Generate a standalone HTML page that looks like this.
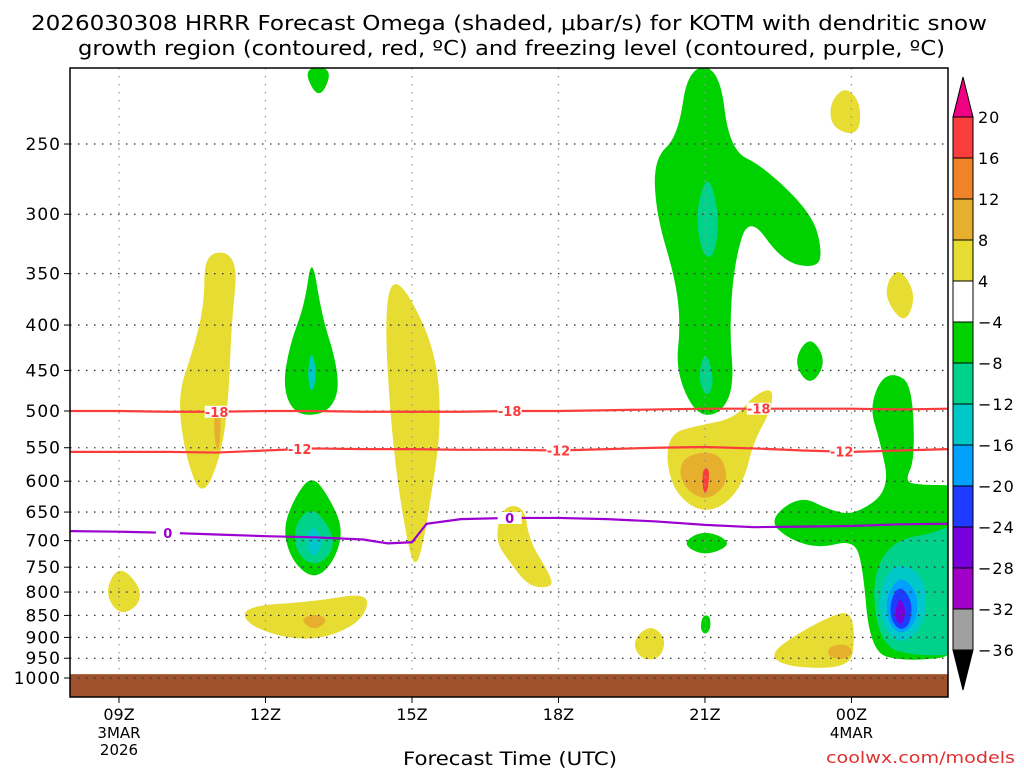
<!DOCTYPE html>
<html><head><meta charset="utf-8"><style>
html,body{margin:0;padding:0;background:#fff;}
svg{display:block;font-family:"DejaVu Sans","Liberation Sans",sans-serif;}
</style></head><body>
<svg id="chart" width="1024" height="768" viewBox="0 0 1024 768" xmlns="http://www.w3.org/2000/svg">
<text x="31" y="30" font-size="20" textLength="956" lengthAdjust="spacingAndGlyphs" fill="#000">2026030308 HRRR Forecast Omega (shaded, μbar/s) for KOTM with dendritic snow</text>
<text x="78" y="55" font-size="20" textLength="867" lengthAdjust="spacingAndGlyphs" fill="#000">growth region (contoured, red, ºC) and freezing level (contoured, purple, ºC)</text>
<defs><clipPath id="plotclip"><rect x="70" y="68" width="878" height="629"/></clipPath></defs>
<g id="fills" clip-path="url(#plotclip)"></g>
<g id="grid"></g>
<g id="contours" clip-path="url(#plotclip)"></g>
<rect x="70" y="68" width="878" height="629" fill="none" stroke="#000" stroke-width="1.5"/>
<g id="axes"></g>
<g id="cbar"></g>
<text x="403" y="765" font-size="19" textLength="214" lengthAdjust="spacingAndGlyphs">Forecast Time (UTC)</text>
<text x="826" y="763" font-size="16" textLength="189" lengthAdjust="spacingAndGlyphs" fill="#e03030">coolwx.com/models</text>
</svg>
<script>
// ---- data ----
const xTickHours = [0,3,6,9,12,15];
const xTickLabels = ["09Z","12Z","15Z","18Z","21Z","00Z"];
const xTickSub1 = {0:"3MAR",15:"4MAR"};
const xTickSub2 = {0:"2026"};
const yTickPressures = [250,300,350,400,450,500,550,600,650,700,750,800,850,900,950,1000];
const cbarLevels = [20,16,12,8,4,-4,-8,-12,-16,-20,-24,-28,-32,-36];
const cbarColors = ["#fa3c3c","#f08228","#e6af2d","#e6dc32","#ffffff","#00d200","#00d28c","#00c8c8","#00a0ff","#1e3cff","#7800dc","#a000c8","#a0a0a0"];
const levelColor = {"y":"#e6dc32","o":"#e6af2d","do":"#f08228","r":"#fa3c3c","g":"#00d200","tg":"#00d28c","c":"#00c8c8","lb":"#00a0ff","b":"#1e3cff","p":"#7800dc","w":"#ffffff"};
// polygons in [hour after 09Z, hPa]
const blobs = [
 ["g",[[3.75,205],[4.4,205],[4.1,224]]],
 ["y",[[1.75,330],[2.45,333],[2.3,400],[2.25,480],[2.1,560],[1.7,630],[1.35,560],[1.2,480],[1.5,430],[1.75,380]]],
 ["o",[[1.95,495],[2.1,500],[2.05,560],[1.95,540]]],
 ["g",[[3.95,332],[4.15,390],[4.45,440],[4.5,480],[4.2,505],[3.6,505],[3.35,470],[3.5,420],[3.8,380]]],
 ["c",[[3.95,425],[4.05,455],[3.95,480],[3.85,455]]],
 ["g",[[3.95,590],[4.3,625],[4.6,680],[4.4,740],[4.0,775],[3.55,740],[3.35,680],[3.6,625]]],
 ["tg",[[3.95,640],[4.35,680],[4.4,720],[4.0,750],[3.6,720],[3.6,670]]],
 ["c",[[3.95,670],[4.2,700],[4.0,735],[3.8,705]]],
 ["y",[[5.55,356],[5.9,365],[6.5,430],[6.6,520],[6.4,620],[6.2,720],[6.05,750],[5.9,700],[5.7,600],[5.55,500],[5.45,400]]],
 ["y",[[2.55,830],[4.0,820],[5.15,800],[5.0,860],[4.3,900],[3.5,905],[2.6,870]]],
 ["o",[[3.7,860],[4.0,845],[4.3,860],[4.0,885]]],
 ["y",[[0,745],[0.45,790],[0.4,830],[0,850],[-0.3,800]]],
 ["y",[[7.85,640],[8.3,640],[8.4,700],[8.8,760],[8.9,790],[8.4,790],[8.0,740],[7.7,700]]],
 ["g",[[11.65,205],[12.3,205],[12.5,254],[13.2,265],[14.2,300],[14.4,330],[14.3,345],[13.6,340],[12.9,300],[12.6,340],[12.5,405],[12.6,470],[12.3,505],[11.8,505],[11.4,450],[11.5,400],[11.4,356],[11.0,300],[10.95,260],[11.45,245]]],
 ["tg",[[12.05,268],[12.3,300],[12.2,335],[11.95,335],[11.8,300]]],
 ["tg",[[12.0,425],[12.2,460],[12.05,485],[11.85,460]]],
 ["y",[[11.3,530],[11.8,520],[12.6,510],[13.0,480],[13.4,470],[13.35,500],[13.0,540],[12.8,600],[12.4,640],[11.9,650],[11.4,620],[11.2,570]]],
 ["o",[[11.6,560],[12.3,555],[12.5,600],[12.1,630],[11.7,620],[11.45,590]]],
 ["r",[[11.95,580],[12.1,580],[12.05,620],[11.95,615]]],
 ["g",[[11.5,705],[12.0,680],[12.6,705],[12.0,730]]],
 ["g",[[11.95,850],[12.1,850],[12.12,880],[12.0,895],[11.9,880]]],
 ["g",[[14.15,410],[14.5,440],[14.15,470],[13.8,440]]],
 ["y",[[14.87,215],[15.2,225],[15.15,245],[14.6,240],[14.55,225]]],
 ["y",[[16.0,345],[16.33,370],[16.1,400],[15.7,375],[15.75,355]]],
 ["g",[[15.89,453],[16.24,467],[16.3,567],[16.1,598],[16.3,606],[17.5,606],[17.5,942],[15.99,959],[15.38,930],[15.22,736],[15.01,699],[14.36,714],[13.74,699],[13.29,664],[13.95,622],[14.56,647],[15.07,655],[15.79,614],[15.58,539],[15.38,498],[15.58,461]]],
 ["tg",[[17.5,650],[16.8,685],[15.8,700],[15.4,780],[15.6,920],[16.3,945],[17.5,940]]],
 ["c",[[16.0,740],[16.5,770],[16.55,850],[16.2,910],[15.8,905],[15.55,840],[15.65,770]]],
 ["lb",[[16.0,765],[16.35,800],[16.35,860],[16.05,895],[15.75,870],[15.7,810]]],
 ["b",[[16.0,785],[16.25,820],[16.2,870],[16.0,885],[15.8,860],[15.8,815]]],
 ["p",[[16.0,810],[16.12,840],[16.05,870],[15.92,865],[15.9,835]]],
 ["w",[[17.5,725],[17.3,760],[17.25,820],[17.35,880],[17.5,910]]],
 ["y",[[13.29,942],[13.95,887],[14.77,842],[15.01,849],[15.07,906],[14.97,974],[13.74,974]]],
 ["o",[[14.55,920],[14.9,915],[15.05,935],[14.85,955],[14.5,945]]],
 ["y",[[10.87,870],[11.2,900],[11.1,950],[10.7,955],[10.5,910]]]
];
const contourHours = [-1,0,1,2,3,4,5,6,7,8,9,10,11,12,13,14,15,16,17,18];
const m18Press = [500,500,501,501,500,500,501,501,501,500,500,499,498,497,497,497,497,498,497,497];
const m12Press = [556,556,556,557,554,551,552,552,553,553,554,552,550,549,551,554,556,554,552,551];
const fzHours = [-1,0,1,2,3,4,5,5.5,6,6.3,7,8,9,10,11,12,13,14,15,16,17,18];
const fzPress = [683,684,686,689,692,694,698,705,703,670,662,660,660,662,666,672,676,675,674,671,670,670];
const m18Labels = [2.0,8.0,13.1];
const m12Labels = [3.7,9.0,14.8];
const fzLabels = [1.0,8.0];

// ---- axes functions ----
const X = h => 119 + h*48.83;
const Y = p => 678 - 385.2*Math.log(1000/p);
const NS = "http://www.w3.org/2000/svg";
function mk(tag, attrs, parent){const e=document.createElementNS(NS,tag);for(const k in attrs)e.setAttribute(k,attrs[k]);parent.appendChild(e);return e;}
const fills=document.getElementById('fills'), grid=document.getElementById('grid'), cont=document.getElementById('contours'), axes=document.getElementById('axes'), cbar=document.getElementById('cbar');

function smoothPath(pts){
  const P=pts.map(q=>[X(q[0]),Y(q[1])]); const n=P.length; let d="M"+((P[n-1][0]+P[0][0])/2)+","+((P[n-1][1]+P[0][1])/2);
  for(let i=0;i<n;i++){const a=P[i],b=P[(i+1)%n];d+=" Q"+a[0]+","+a[1]+" "+((a[0]+b[0])/2)+","+((a[1]+b[1])/2);}
  return d+"Z";
}
blobs.forEach((b,i)=>{
  const e=mk('path',{d:smoothPath(b[1]),fill:levelColor[b[0]]},fills);
  
  
});
const gr=mk('rect',{x:70,y:Y(990),width:878,height:697-Y(990),fill:"#a0522d"},fills);



yTickPressures.forEach(p=>{
  const l=mk('line',{x1:70,x2:948,y1:Y(p),y2:Y(p),stroke:"#333","stroke-width":1.3,"stroke-dasharray":"1.5,6.5"},grid);
  
  
  const t=mk('text',{x:61,y:Y(p)+6,"font-size":17,"text-anchor":"end","letter-spacing":1},axes); t.textContent=p;
  
  
  mk('line',{x1:64,x2:70,y1:Y(p),y2:Y(p),stroke:"#000"},axes);
});
xTickHours.forEach((h,i)=>{
  const l=mk('line',{x1:X(h),x2:X(h),y1:68,y2:672,stroke:"#999","stroke-width":1.3,"stroke-dasharray":"1.5,6.5"},grid);
  
  
  mk('line',{x1:X(h),x2:X(h),y1:697,y2:703,stroke:"#000"},axes);
  const t=mk('text',{x:X(h),y:720,"font-size":16,"text-anchor":"middle"},axes); t.textContent=xTickLabels[i];
  
  
  if(xTickSub1[h]){const s=mk('text',{x:X(h),y:738,"font-size":15,"text-anchor":"middle"},axes);s.textContent=xTickSub1[h];
    
    }
  if(xTickSub2[h]){const s=mk('text',{x:X(h),y:755,"font-size":15,"text-anchor":"middle"},axes);s.textContent=xTickSub2[h];
    
    }
});

function line(hs,ps,color,name,labels,txt){
  const d=hs.map((h,i)=>(i?"L":"M")+X(h)+","+Y(ps[i])).join(" ");
  const e=mk('path',{d:d,fill:"none",stroke:color,"stroke-width":2.2},cont);
  
  
  labels.forEach(h=>{
    let j=0; while(j<hs.length-2&&hs[j+1]<h)j++;
    const f=(h-hs[j])/(hs[j+1]-hs[j]); const p=ps[j]+f*(ps[j+1]-ps[j]);
    mk('rect',{x:X(h)-12,y:Y(p)-6,width:24,height:12,fill:"#fff"},cont);
    const t=mk('text',{x:X(h),y:Y(p)+5,"font-size":13,"font-weight":"bold","text-anchor":"middle",fill:color},cont);t.textContent=txt;
    
    
  });
}
line(contourHours,m18Press,"#fa3c3c","contour-minus18",m18Labels,"-18");
line(contourHours,m12Press,"#fa3c3c","contour-minus12",m12Labels,"-12");
line(fzHours,fzPress,"#9b00d0","freezing-level",fzLabels,"0");

const cbTop=117, cbStep=41.0, cbX=953, cbW=20;
mk('polygon',{points:`${cbX},${cbTop} ${cbX+cbW},${cbTop} ${cbX+cbW/2},77`,fill:"#f00082",stroke:"#000"},cbar);
cbarColors.forEach((c,i)=>{
  const r=mk('rect',{x:cbX,y:cbTop+i*cbStep,width:cbW,height:cbStep,fill:c,stroke:"#000"},cbar);
  
  
});
const cbBot=cbTop+cbarColors.length*cbStep;
mk('polygon',{points:`${cbX},${cbBot} ${cbX+cbW},${cbBot} ${cbX+cbW/2},690`,fill:"#000",stroke:"#000"},cbar);
cbarLevels.forEach((v,i)=>{
  const t=mk('text',{x:978,y:cbTop+i*cbStep+6,"font-size":16,"letter-spacing":1},cbar);
  t.textContent=(v<0?"\u2212"+(-v):v);
  
  
});
</script>
</body></html>
